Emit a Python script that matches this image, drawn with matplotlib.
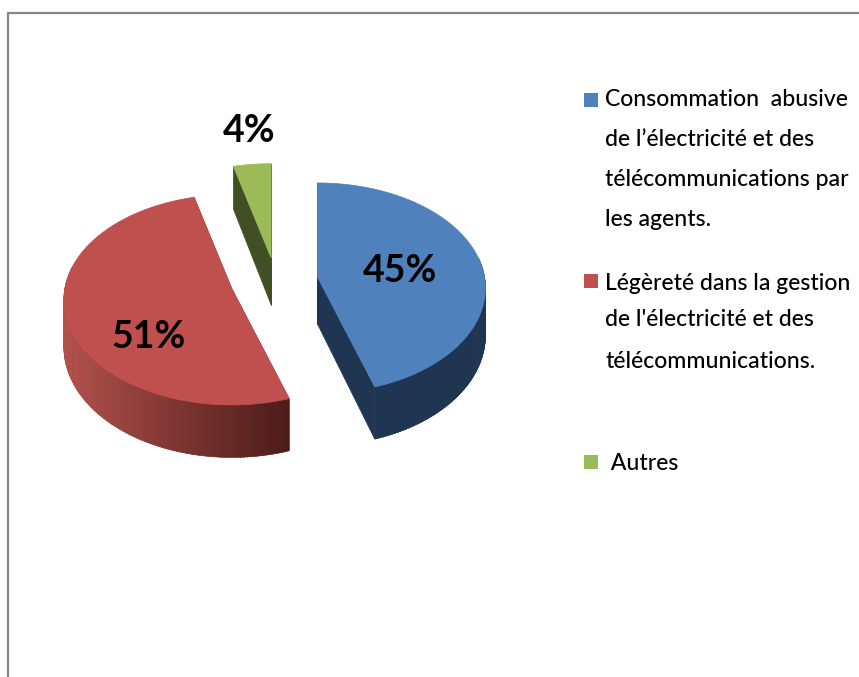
import math
import matplotlib
matplotlib.use("Agg")
import matplotlib.pyplot as plt
from matplotlib.patches import Polygon, Rectangle

values = [45, 51, 4]
pct_labels = ["45%", "51%", "4%"]
legend_lines = [
    ["Consommation  abusive", "de l’électricité et des", "télécommunications par", "les agents."],
    ["Légèreté dans la gestion", "de l'électricité et des", "télécommunications."],
    [" Autres"],
]
top_colors = ["#4F81BD", "#C0504D", "#9BBB59"]
side_colors = ["#1F3552", "#7A3533", "#414F24"]

plt.rcParams["font.family"] = ["Lato", "DejaVu Sans"]

# pie geometry, all in pixels of the picture
cx, cy = 276, 281
rx, ry = 167, 104
persp = 0.105
depth = 47
explode = [42, 46, 39]
label_pos = [(400, 271), (149, 337), (249, 131)]
legend_y = [[100, 139, 179, 219], [283, 320, 361], [463]]
box_y = [100, 281, 462]


def project(ox, oy, r, deg, drop=0.0):
    a = math.radians(deg)
    s = 1 + persp * math.cos(a) * r
    x = ox + rx * r * math.sin(a) / s
    y = oy - ry * r * math.cos(a) / s + drop / s
    return x, y


def arc(ox, oy, a0, a1, drop=0.0):
    n = max(2, int(abs(a1 - a0)))
    return [project(ox, oy, 1, a0 + (a1 - a0) * i / n, drop) for i in range(n + 1)]


def mix(c0, c1, t):
    return tuple(c0[i] + (c1[i] - c0[i]) * t for i in range(3))


fig = plt.figure(figsize=(8.59, 6.77), dpi=100)
ax = fig.add_axes([0, 0, 1, 1])
ax.set_xlim(0, 859)
ax.set_ylim(677, 0)
ax.axis("off")

# chart frame, only top and left show
ax.plot([8, 8, 859], [677, 13, 13], color="#868686", lw=1.6)

start = 0.0
total = sum(values)
for i, v in enumerate(values):
    end = start + 360.0 * v / total
    mid = math.radians((start + end) / 2)
    ox = cx + explode[i] * math.sin(mid)
    oy = cy - explode[i] * 0.6 * math.cos(mid)

    # side walls along the cut edges
    for edge in (start, end):
        ex, ey = project(ox, oy, 1, edge)
        bx, by = project(ox, oy, 1, edge, depth)
        ax.add_patch(Polygon([(ox, oy), (ex, ey), (bx, by), (ox, oy + depth)],
                             closed=True, fc=side_colors[i], ec=side_colors[i], lw=0.5))

    # outer wall, cut in small pieces so the red one can be shaded
    for a in range(int(start), int(end)):
        a0 = max(a, start)
        a1 = min(a + 1.5, end)
        if math.cos(math.radians(a)) > 0.2:
            continue
        pts = [project(ox, oy, 1, a0), project(ox, oy, 1, a1),
               project(ox, oy, 1, a1, depth), project(ox, oy, 1, a0, depth)]
        col = side_colors[i]
        if i == 1:
            t = (pts[0][0] - 64) / (288 - 64)
            col = mix((0.70, 0.32, 0.30), (0.30, 0.11, 0.10), min(max(t, 0), 1))
        ax.add_patch(Polygon(pts, closed=True, fc=col, ec=col, lw=0.4))

    # top surface
    ax.add_patch(Polygon([(ox, oy)] + arc(ox, oy, start, end), closed=True,
                         fc=top_colors[i], ec=top_colors[i], lw=0.5))
    ax.text(label_pos[i][0], label_pos[i][1], pct_labels[i], fontsize=27, fontweight="bold",
            ha="center", va="center", color="black")
    start = end

for i, lines in enumerate(legend_lines):
    ax.add_patch(Rectangle((584, box_y[i] - 7), 14, 14, fc=top_colors[i], ec="none"))
    for y, line in zip(legend_y[i], lines):
        ax.text(605, y, line, fontsize=16.6, fontweight="medium", ha="left", va="center", color="black")

fig.savefig("out.png", dpi=100)
